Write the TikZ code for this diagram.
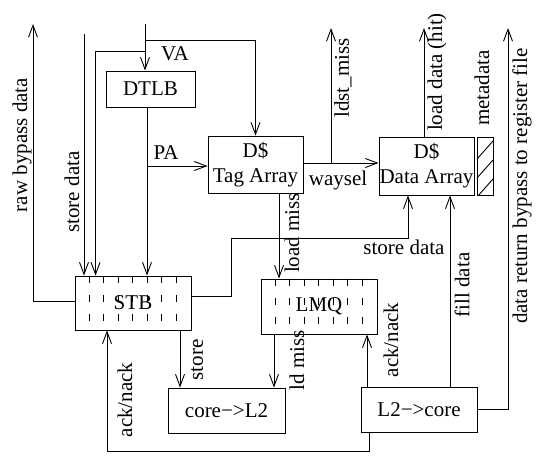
\documentclass[tikz,border=0pt]{standalone}
\usepackage{fontspec}
\setmainfont{Liberation Serif}
\usetikzlibrary{arrows.meta}
\begin{document}
\begin{tikzpicture}[x=1pt,y=-1pt,line width=0.9pt,
  box/.style={draw, inner sep=0pt, align=center},
  arr/.style={-{Straight Barb[length=12pt,width=9pt]}},
  lbl/.style={inner sep=0pt},
  rlbl/.style={inner sep=0pt, rotate=90},
  qdash/.style={dash pattern=on 7pt off 12pt},
  font=\fontsize{21}{25}\selectfont]
\useasboundingbox (0,0) rectangle (538,456);
% boxes
\node[box, minimum width=89pt, minimum height=36pt] (dtlb) at (150.5,89) {DTLB};
\node[box, minimum width=95pt, minimum height=57pt] (tag) at (255.5,164.5) {D\$\\Tag Array};
\node[box, minimum width=95pt, minimum height=58pt] (data) at (426.5,166) {D\$\\Data Array};
\node[box, minimum width=16pt, minimum height=58pt] (meta) at (485,166) {};
\node[box, minimum width=116pt, minimum height=54pt] (stb) at (133,303) {STB};
\node[box, minimum width=116pt, minimum height=55pt] (lmq) at (319,306.5) {LMQ};
\node[box, minimum width=117pt, minimum height=45pt] (corel2) at (226.5,410.5) {core−>L2};
\node[box, minimum width=116pt, minimum height=45pt] (l2core) at (419,409.5) {L2−>core};
% hatch in metadata box
\begin{scope}
\clip (meta.north west) rectangle (meta.south east);
\foreach \c in {150,169,188} \draw (477,\c+9) -- (493,\c-9);
\end{scope}
% dashed separators
\foreach \i in {1,...,7} {
  \draw[qdash] ([xshift=\i*14.5pt]stb.north west) -- ([xshift=\i*14.5pt]stb.south west);
  \draw[qdash] ([xshift=\i*14.5pt]lmq.north west) -- ([xshift=\i*14.5pt]lmq.south west);
}
% coordinates for free ends
\coordinate (vatop) at (145,24);
\coordinate (vb) at (145,40);
\coordinate (vc) at (145,51);
\coordinate (sdtop) at (84,34);
\coordinate (rbtop) at (33,24);
\coordinate (pb) at (147,166);
\coordinate (ls) at (331,163);
\coordinate (lstop) at (331,28);
\coordinate (ldtop) at (424,28);
\coordinate (drtop) at (508,28);
\coordinate (sdr) at (231,238);
\coordinate (ackb) at (107,451);
% connectors
\draw[arr] (vatop) -- (vatop |- dtlb.north);
\draw[arr] (vb) -| (tag.north);
\draw[arr] (vc) -| ([xshift=21pt]stb.north west);
\draw[arr] (sdtop) -- (sdtop |- stb.north);
\draw[arr] (stb.west |- 0,301) -| (rbtop);
\draw[arr] (dtlb.south -| pb) -- (stb.north -| pb);
\draw[arr] (pb) -- (pb -| tag.west);
\draw[arr] (tag.east |- ls) -- (data.west |- ls);
\draw[arr] (ls) -- (lstop);
\draw[arr] (data.north -| ldtop) -- (ldtop);
\draw[arr] (l2core.north -| 450,0) -- (data.south -| 450,0);
\draw[arr] (stb.east |- 0,296) -| (sdr) -| (data.south -| 408,0);
\draw[arr] (tag.south -| 279,0) -- (lmq.north -| 279,0);
\draw[arr] (l2core.east) -| (drtop);
\draw[arr] (stb.south -| 180,0) -- (corel2.north -| 180,0);
\draw[arr] (lmq.south -| 274,0) -- (corel2.north -| 274,0);
\draw[arr] (l2core.north -| 367,0) -- (lmq.south -| 367,0);
\draw[arr] (l2core.south -| 369,0) |- (ackb) -- (stb.south -| ackb);
% labels
\node[lbl] (lva) at (175,54) {VA};
\node[lbl] (lpa) at (166,153) {PA};
\node[lbl] (lway) at (338,180) {waysel};
\node[lbl] (lsdr) at (404,247) {store data};
\node[rlbl] (lraw) at (22,145) {raw bypass data};
\node[rlbl] (lsdl) at (72,192) {store data};
\node[rlbl] (lldst) at (343,78) {ldst\_miss};
\node[rlbl] (lload) at (437,72) {load data (hit)};
\node[rlbl] (lmeta) at (482,88) {metadata};
\node[rlbl] (llm) at (292,233) {load miss};
\node[rlbl] (lfill) at (462,285) {fill data};
\node[rlbl] (ldr) at (522,186) {data return bypass to register file};
\node[rlbl] (lst) at (197,360) {store};
\node[rlbl] (lldm) at (297,360) {ld miss};
\node[rlbl] (lack1) at (391,340) {ack/nack};
\node[rlbl] (lack2) at (125,400) {ack/nack};
\end{tikzpicture}
\end{document}
